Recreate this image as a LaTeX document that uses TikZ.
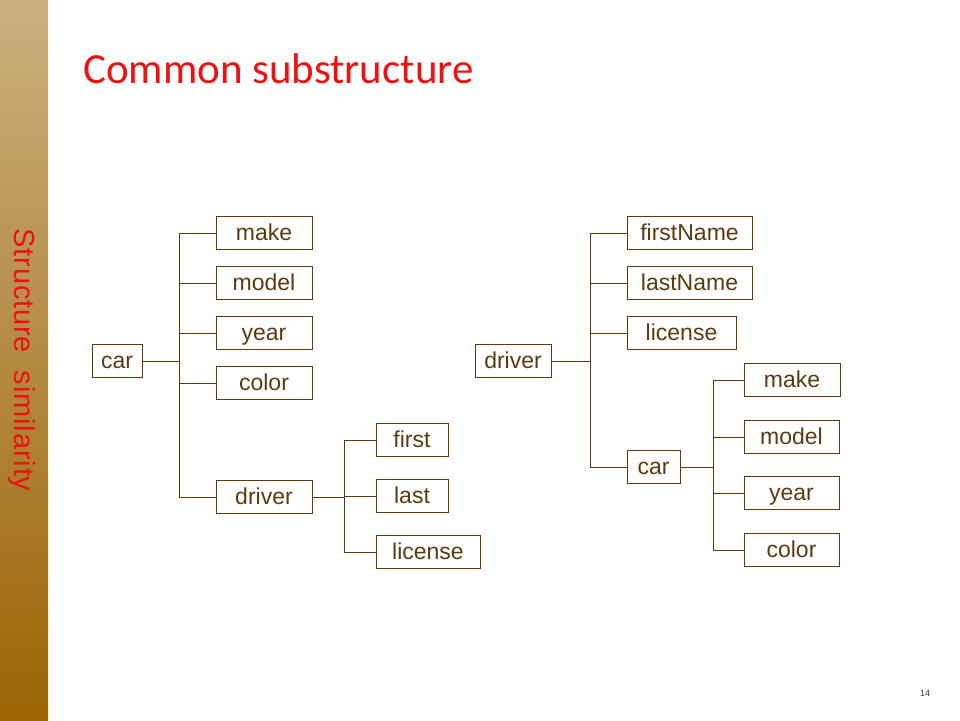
\documentclass[tikz,border=0pt]{standalone}
\usepackage{fontspec}
\setmainfont{Liberation Sans}
\newfontfamily\titlefont{Carlito}
\usetikzlibrary{positioning}
\definecolor{treebrown}{HTML}{5C3A10}
\definecolor{slidered}{HTML}{EE1111}
\definecolor{bartop}{HTML}{CBB07E}
\definecolor{barbottom}{HTML}{9C6404}

\begin{document}
\begin{tikzpicture}[x=1pt, y=-1pt,
        field/.style={draw=treebrown, line width=1pt, text=treebrown, minimum height=33pt,
            inner sep=0pt, text height=17pt, text depth=3pt, font=\fontsize{23}{27}\selectfont},
        link/.style={draw=treebrown, line width=1pt}]
        \useasboundingbox (0, 0) rectangle (960, 720);
        % Side bar
        \shade [top color=bartop, bottom color=barbottom] (0, 0) rectangle (48, 720);
        \node [rotate=-90, text=slidered, inner sep=0pt,
            font=\fontsize{29}{34}\selectfont\addfontfeature{LetterSpace=3}] (sidetitle) at (22, 360) {Structure\ \ similarity};
        % Title
        \node [anchor=base west, text=slidered, inner sep=0pt, font=\titlefont\fontsize{43}{50}\selectfont] (title) at (83, 83) {Common substructure};
        \node [font=\fontsize{9}{11}\selectfont, text=black!80] (pagenum) at (925, 693) {14};
        % Left tree
        \node [field, minimum width=50pt] (lcar) at (117, 361) {car};
        \node [field, minimum width=96pt] (lmake) at (264, 233) {make};
        \node [field, minimum width=96pt] (lmodel) at (264, 283) {model};
        \node [field, minimum width=96pt] (lyear) at (264, 333) {year};
        \node [field, minimum width=96pt] (lcolor) at (264, 383) {color};
        \node [field, minimum width=96pt] (ldriver) at (264, 497) {driver};
        \node [field, minimum width=72pt] (lfirst) at (412, 440) {first};
        \node [field, minimum width=72pt] (llast) at (412, 496) {last};
        \node [field, minimum width=104pt] (llicense) at (428, 552) {license};
        \coordinate (lcarfork) at (179, 361);
        \coordinate (ldriverfork) at (344, 497);
        \draw [link] (lcar) -- (lcarfork);
        \foreach \leaf in {lmake, lmodel, lyear, lcolor, ldriver}
            \draw [link] (lcarfork) |- (\leaf.west);
        \draw [link] (ldriver) -- (ldriverfork);
        \foreach \leaf in {lfirst, llast, llicense}
            \draw [link] (ldriverfork) |- (\leaf.west);
        % Right tree
        \node [field, minimum width=76pt] (rdriver) at (513, 361) {driver};
        \node [field, minimum width=125pt] (rfirstname) at (689.5, 233) {firstName};
        \node [field, minimum width=125pt] (rlastname) at (689.5, 283) {lastName};
        \node [field, minimum width=109pt] (rlicense) at (681.5, 333) {license};
        \node [field, minimum width=53pt] (rcar) at (653.5, 467) {car};
        \node [field, minimum width=96pt] (rmake) at (792, 380) {make};
        \node [field, minimum width=95pt] (rmodel) at (791.5, 437) {model};
        \node [field, minimum width=95pt] (ryear) at (791.5, 493) {year};
        \node [field, minimum width=95pt] (rcolor) at (791.5, 550) {color};
        \coordinate (rdriverfork) at (590, 361);
        \coordinate (rcarfork) at (713, 467);
        \draw [link] (rdriver) -- (rdriverfork);
        \foreach \leaf in {rfirstname, rlastname, rlicense, rcar}
            \draw [link] (rdriverfork) |- (\leaf.west);
        \draw [link] (rcar) -- (rcarfork);
        \foreach \leaf in {rmake, rmodel, ryear, rcolor}
            \draw [link] (rcarfork) |- (\leaf.west);
    \end{tikzpicture}
\end{document}
